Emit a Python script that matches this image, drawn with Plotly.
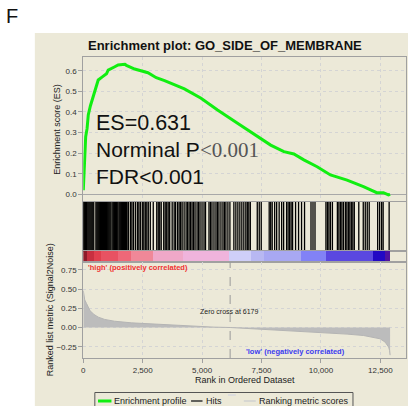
import plotly.graph_objects as go

# --- data ---
es_rank = [0, 40, 100, 160, 209, 300, 400, 486, 560, 628, 800, 976, 1047, 1200,
           1324, 1466, 1675, 1750, 1813, 2000, 2162, 2720, 3070, 3420, 4255, 4955,
           5650, 6490, 7330, 7885, 8440, 8860, 9280, 9840, 10400, 11100, 11790,
           12350, 12630, 12840, 12910]
es_value = [0.02, 0.16, 0.28, 0.32, 0.385, 0.43, 0.47, 0.50, 0.535, 0.555, 0.57,
            0.585, 0.603, 0.61, 0.619, 0.628, 0.629, 0.631, 0.626, 0.617, 0.608,
            0.59, 0.566, 0.552, 0.512, 0.466, 0.409, 0.345, 0.28, 0.239, 0.207,
            0.196, 0.167, 0.134, 0.094, 0.069, 0.037, 0.008, 0.008, -0.003, 0.0]

hit_ranks = [5, 30, 60, 95, 130, 160, 200, 240, 280, 320, 360, 400, 440,
             530, 570, 610, 650, 690, 730, 770, 810, 850, 890, 930, 970, 1010,
             1050, 1090, 1130, 1170, 1240, 1280, 1320, 1360, 1400, 1430,
             1495, 1535, 1575, 1615, 1655, 1695, 1735, 1775, 1815, 1840,
             1897, 1981, 2044, 2107, 2190, 2274, 2337, 2400, 2483, 2546, 2609,
             2672, 2735, 2819, 2944, 3091, 3154, 3216, 3279, 3384, 3447, 3510,
             3572, 3635, 3740, 3824, 3886, 3970, 4033, 4096, 4159, 4242, 4326,
             4389, 4452, 4515, 4577, 4640, 4703, 4787, 4850, 4912, 4996, 5080,
             5143, 5289, 5352, 5415, 5499, 5583, 5645, 5708, 5792, 5876, 5939,
             6001, 6085, 6169, 6336, 6420, 6504, 6588, 6671, 6755, 6839, 6902,
             6965, 7028, 7321, 7404, 7488, 7823, 7886, 7949, 8053, 8137, 8242,
             8347, 8430, 8556, 8619, 8682, 8745, 8807, 8933, 9059, 9184, 9310,
             9582, 9666, 9750, 10210, 10273, 10336, 10399, 10483, 10692, 10755,
             10818, 10881, 10944, 11027, 11090, 11153, 11216, 11279, 11342,
             11404, 11593, 11781, 11865, 11949, 12032, 12388, 12471, 12555,
             12618, 12870]

band_edges = [0, 138, 431, 766, 1478, 2023, 2944, 4200, 6127, 7050, 7596, 9146,
              10193, 12203, 12702, 12910]
band_colors = ["#8e1b2a", "#c83040", "#e0404e", "#e85262", "#ee6878", "#f08898",
               "#f0a8c8", "#f0b4dc", "#cfcff8", "#b8b8f2", "#a8a8f2", "#8282f6",
               "#5a48e0", "#2208c4", "#5012a0"]

metric_rank = [0, 20, 60, 140, 280, 450, 630, 900, 1313, 2023, 2800, 3420, 4100,
               4815, 5500, 6179, 6900, 7600, 8300, 9146, 9800, 10400, 11100,
               11790, 12200, 12490, 12700, 12850, 12890, 12910]
metric_value = [0.48, 0.42, 0.36, 0.31, 0.22, 0.17, 0.135, 0.105, 0.082, 0.061,
                0.047, 0.036, 0.024, 0.012, 0.005, 0.0, -0.012, -0.025, -0.037,
                -0.052, -0.063, -0.072, -0.086, -0.104, -0.125, -0.147, -0.19,
                -0.256, -0.30, -0.36]

zero_cross = 6179
x_ticks = [0, 2500, 5000, 7500, 10000, 12500]

# --- layout helpers (pixel -> paper) ---
W, H = 408, 406
FONT = "Liberation Sans, Arial, sans-serif"


def px(x):
    return x / W


def py(y):
    return 1 - y / H


X_DOM = [px(81.7), px(406)]
X_RANGE = [0, 13580]
GRID = "#d4d4d4"
FRAME = "#a0a0a0"

fig = go.Figure()

# enrichment profile
fig.add_trace(go.Scatter(
    x=es_rank, y=es_value, mode="lines",
    line=dict(color="#11ee11", width=3),
    xaxis="x", yaxis="y", showlegend=False, hoverinfo="skip"
))

# hits
hx, hy = [], []
for h in hit_ranks:
    hx += [h, h, None]
    hy += [0, 1, None]
fig.add_trace(go.Scatter(
    x=hx, y=hy, mode="lines", line=dict(color="black", width=1.3),
    xaxis="x2", yaxis="y2", showlegend=False, hoverinfo="skip"
))

# colour band
centers = [(a + b) / 2 for a, b in zip(band_edges[:-1], band_edges[1:])]
widths = [b - a for a, b in zip(band_edges[:-1], band_edges[1:])]
fig.add_trace(go.Bar(
    x=centers, y=[1] * len(centers), width=widths,
    marker=dict(color=band_colors, line=dict(width=0)),
    xaxis="x3", yaxis="y3", showlegend=False, hoverinfo="skip"
))

# ranked list metric
fig.add_trace(go.Scatter(
    x=metric_rank, y=metric_value, mode="lines", fill="tozeroy",
    fillcolor="#bcbcbc", line=dict(color="#b4b4b4", width=1),
    xaxis="x4", yaxis="y4", showlegend=False, hoverinfo="skip"
))

common_x = dict(domain=X_DOM, range=X_RANGE, showline=True, linecolor=FRAME,
                mirror=True, zeroline=False, fixedrange=True)

fig.update_layout(
    width=W, height=H,
    margin=dict(l=0, r=0, t=0, b=0),
    paper_bgcolor="white",
    plot_bgcolor="white",
    font=dict(family=FONT, color="#333333"),
    bargap=0,
    xaxis=dict(**common_x, anchor="y", showticklabels=False, tickvals=x_ticks,
               showgrid=True, gridcolor=GRID, griddash="dot"),
    yaxis=dict(domain=[py(200.5), py(57)], range=[-0.030, 0.6665],
               anchor="x", tickvals=[0, 0.1, 0.2, 0.3, 0.4, 0.5, 0.6],
               tickformat=".1f", ticks="outside", ticklen=4, tickcolor=FRAME,
               tickfont=dict(size=8, color="#333333"),
               showline=True, linecolor=FRAME, mirror=True,
               showgrid=True, gridcolor=GRID, griddash="dot",
               zeroline=True, zerolinecolor="#a8a8a8", zerolinewidth=1,
               fixedrange=True),
    xaxis2=dict(**common_x, anchor="y2", showticklabels=False, showgrid=False),
    yaxis2=dict(domain=[py(250.5), py(201.5)], range=[0, 1], anchor="x2",
                showticklabels=False, showgrid=False, showline=True,
                linecolor=FRAME, mirror=True, zeroline=False, fixedrange=True),
    xaxis3=dict(**common_x, anchor="y3", showticklabels=False, showgrid=False),
    yaxis3=dict(domain=[py(261.5), py(250.5)], range=[0, 1], anchor="x3",
                showticklabels=False, showgrid=False, showline=True,
                linecolor=FRAME, mirror=True, zeroline=False, fixedrange=True),
    xaxis4=dict(**common_x, anchor="y4", tickvals=x_ticks, tickformat=",",
                ticks="outside", ticklen=4, tickcolor=FRAME,
                tickfont=dict(size=8, color="#333333"),
                showgrid=True, gridcolor=GRID, griddash="dot"),
    yaxis4=dict(domain=[py(358), py(262)], range=[-0.397, 0.853], anchor="x4",
                tickvals=[-0.25, 0, 0.25, 0.5, 0.75], tickformat=".2f",
                ticks="outside", ticklen=4, tickcolor=FRAME,
                tickfont=dict(size=8, color="#333333"),
                showline=True, linecolor=FRAME, mirror=True,
                showgrid=True, gridcolor=GRID, griddash="dot",
                zeroline=False, fixedrange=True),
)

LEG_Y = 401
shapes = [
    # beige panel
    dict(type="rect", xref="paper", yref="paper", x0=px(33), x1=1.01,
         y0=-0.01, y1=py(33), fillcolor="#ece9d8", line=dict(width=0),
         layer="below"),
    # zero cross
    dict(type="line", xref="x4", yref="y4", x0=zero_cross, x1=zero_cross,
         y0=-0.397, y1=0.853, line=dict(color="#999999", width=1, dash="dash")),
    # legend frame and samples
    dict(type="rect", xref="paper", yref="paper", x0=px(93.3), x1=px(352.7),
         y0=py(415), y1=py(392.5), line=dict(color="#555555", width=1)),
    dict(type="line", xref="paper", yref="paper", x0=px(96.5), x1=px(110),
         y0=py(LEG_Y), y1=py(LEG_Y), line=dict(color="#11ee11", width=3)),
    dict(type="line", xref="paper", yref="paper", x0=px(190), x1=px(201.5),
         y0=py(LEG_Y), y1=py(LEG_Y), line=dict(color="#333333", width=1.5)),
    dict(type="line", xref="paper", yref="paper", x0=px(227), x1=px(235),
         y0=py(395), y1=py(395), line=dict(color="#dddddd", width=2)),
    dict(type="line", xref="paper", yref="paper", x0=px(243), x1=px(255),
         y0=py(LEG_Y), y1=py(LEG_Y), line=dict(color="#d0d0d0", width=1.5)),
]
fig.update_layout(shapes=shapes)


def note(text, x, y, size, color="#222222", xanchor="center", angle=0):
    fig.add_annotation(text=text, xref="paper", yref="paper", x=px(x), y=py(y),
                       xanchor=xanchor, yanchor="middle", showarrow=False,
                       textangle=angle,
                       font=dict(family=FONT, size=size, color=color))


note("F", 10, 16, 20, color="#111111")
note("<b>Enrichment plot: GO_SIDE_OF_MEMBRANE</b>", 224, 45, 13, color="#111111")

note("ES=0.631", 92, 123, 21.5, color="#111111", xanchor="left")
note("Norminal P<span style='font-family:Liberation Serif, Times New Roman, serif;"
     "color:#555555'>&lt;0.001</span>", 92, 150, 21, color="#111111",
     xanchor="left")
note("FDR&lt;0.001", 92, 176, 21, color="#111111", xanchor="left")

note("Enrichment score (ES)", 55, 129, 9, angle=-90)
note("Ranked list metric (Signal2Noise)", 48.5, 310, 9, angle=-90)
note("Rank in Ordered Dataset", 243.8, 379.5, 9)

note("<b>'high' (positively correlated)</b>", 84, 267.5, 7.5, color="#f03030",
     xanchor="left")
note("Zero cross at 6179", 228, 311, 7, color="#222222")
note("<b>'low' (negatively correlated)</b>", 243, 351.5, 7.5, color="#3a3af0",
     xanchor="left")

note("Enrichment profile", 111, LEG_Y, 9, xanchor="left")
note("Hits", 203, LEG_Y, 9, xanchor="left")
note("Ranking metric scores", 256.5, LEG_Y, 9, xanchor="left")

fig.write_html(
    "out.html",
    config={"displayModeBar": False, "staticPlot": True},
    post_script="document.body.style.margin='0';"
                "document.body.style.overflow='hidden';",
)
